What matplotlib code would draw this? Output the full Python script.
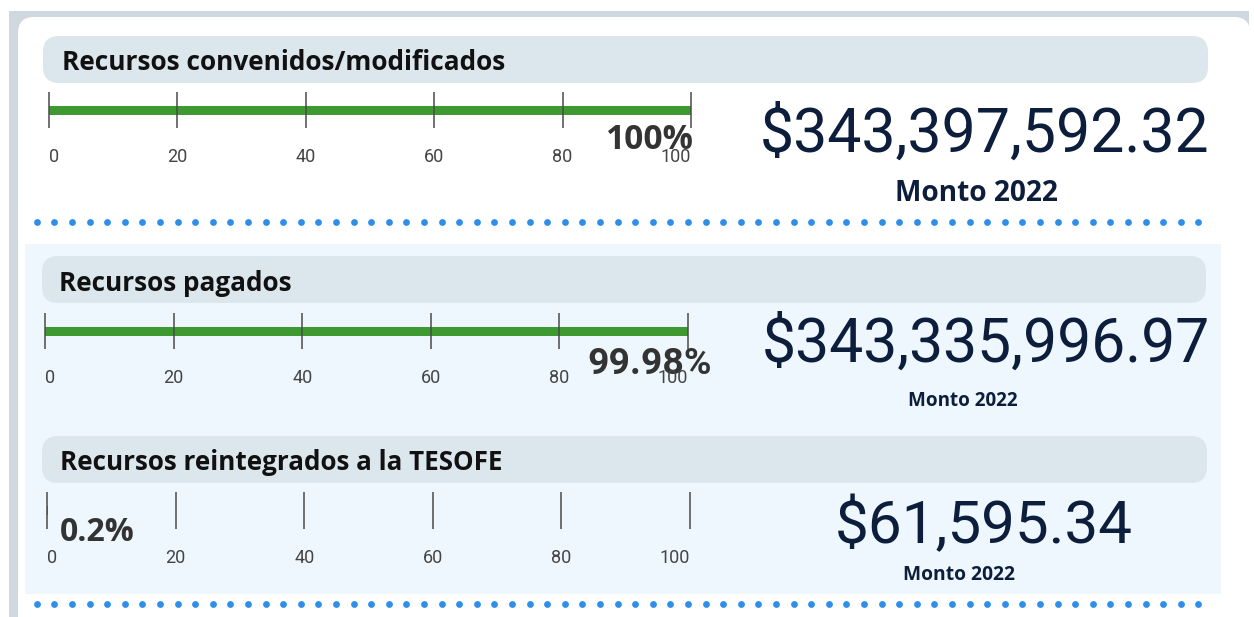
import matplotlib
matplotlib.use("Agg")
import matplotlib.pyplot as plt
import numpy as np
from matplotlib.patches import FancyBboxPatch, Rectangle

# ---------------- data ----------------
titles = ["Recursos convenidos/modificados", "Recursos pagados",
          "Recursos reintegrados a la TESOFE"]
percent_values = [100, 99.98, 0.2]
percent_labels = ["100%", "99.98%", "0.2%"]
amounts = ["$343,397,592.32", "$343,335,996.97", "$61,595.34"]
amount_caption = "Monto 2022"
tick_values = [0, 20, 40, 60, 80, 100]
tick_labels = ["0", "20", "40", "60", "80", "100"]

# ---------------- layout (pixels) ----------------
W, H = 1254, 617
pills = [(43, 36, 1165, 47), (42, 256, 1164, 47), (42, 436, 1165, 47)]
title_pos = [(62, 70, 444), (59, 291, 233), (60, 470, 442)]
bar_boxes = [(49, 691, 92, 128), (45, 688, 313, 349), (47, 690, 492, 529)]
pct_pos = [(693, 149, 88, "right", "Open Sans", "bold"),
           (712, 374, 124, "right", "Roboto", "bold"),
           (60, 541, 75, "left", "Open Sans", "bold")]
amount_pos = [(760, 152, 449), (762, 362, 448), (835, 543, 298)]
caption_pos = [(895, 201, 163), (908, 406, 110), (903, 580, 112)]
dot_rows = [222, 604]

GREEN = "#3e9a30"
NAVY = "#0c1e3b"
PILL = "#dce6ed"
DOT = "#2f8fe8"

fig = plt.figure(figsize=(W / 100, H / 100), dpi=100)
fig.patch.set_facecolor("white")
bg = fig.add_axes([0, 0, 1, 1])
bg.set_xlim(0, W)
bg.set_ylim(H, 0)
bg.axis("off")

# frame and card
bg.add_patch(Rectangle((9, 11), 1240, 640, fc="#cfd8de", ec="none"))
bg.add_patch(FancyBboxPatch((18, 17), 1232, 700,
                            boxstyle="round,pad=0,rounding_size=16",
                            fc="white", ec="none"))
bg.add_patch(Rectangle((25, 244), 1196, 350, fc="#eef7fd", ec="none"))

for (x, y, w, h) in pills:
    bg.add_patch(FancyBboxPatch((x, y), w, h,
                                boxstyle="round,pad=0,rounding_size=16",
                                fc=PILL, ec="none"))

# dotted separators
dx = np.arange(67) * 17.6 + 36.7
for yy in dot_rows:
    bg.scatter(dx, np.full_like(dx, yy), s=24, color=DOT, linewidths=0)

renderer = fig.canvas.get_renderer()


def fit_text(ax, x, y, s, width, ha, family, weight, color):
    t = ax.text(x, y, s, ha=ha, va="baseline", fontsize=20,
                family=family, fontweight=weight, color=color)
    w = t.get_window_extent(renderer).width
    t.set_fontsize(20 * width / w)
    return t


for i in range(3):
    # header title
    tx, ty, tw = title_pos[i]
    fit_text(bg, tx, ty, titles[i], tw, "left", "Open Sans", "bold", "#111111")

    # progress bar axis
    x0, x1, ttop, tbot = bar_boxes[i]
    ax = fig.add_axes([x0 / W, 1 - tbot / H, (x1 - x0) / W, (tbot - ttop) / H])
    ax.set_xlim(0, 100)
    ax.set_ylim(0, 1)
    ax.patch.set_alpha(0)
    for sp in ax.spines.values():
        sp.set_visible(False)
    ax.barh(0.5, percent_values[i], height=9 / (tbot - ttop), color=GREEN,
            zorder=1)
    ax.set_yticks([])
    ax.set_xticks(tick_values, tick_labels)
    ax.tick_params(axis="x", direction="in", length=(tbot - ttop) * 0.72,
                   width=1.1, color="#4a4a4a", pad=14.5, labelsize=13,
                   labelcolor="#444444")
    for lab in ax.get_xticklabels():
        lab.set_family("Roboto")
    labs = ax.get_xticklabels()
    labs[0].set_ha("left")
    labs[-1].set_ha("right")

    # percent annotation
    px, py, pw, pha, pfam, pwt = pct_pos[i]
    fit_text(bg, px, py, percent_labels[i], pw, pha, pfam, pwt, "#333333")

    # amount
    ax_, ay_, aw_ = amount_pos[i]
    fit_text(bg, ax_, ay_, amounts[i], aw_, "left", "Roboto", "normal", NAVY)

    # caption
    cx, cy, cw = caption_pos[i]
    fit_text(bg, cx, cy, amount_caption, cw, "left", "Open Sans", "bold", NAVY)

fig.savefig("out.png", dpi=100)
